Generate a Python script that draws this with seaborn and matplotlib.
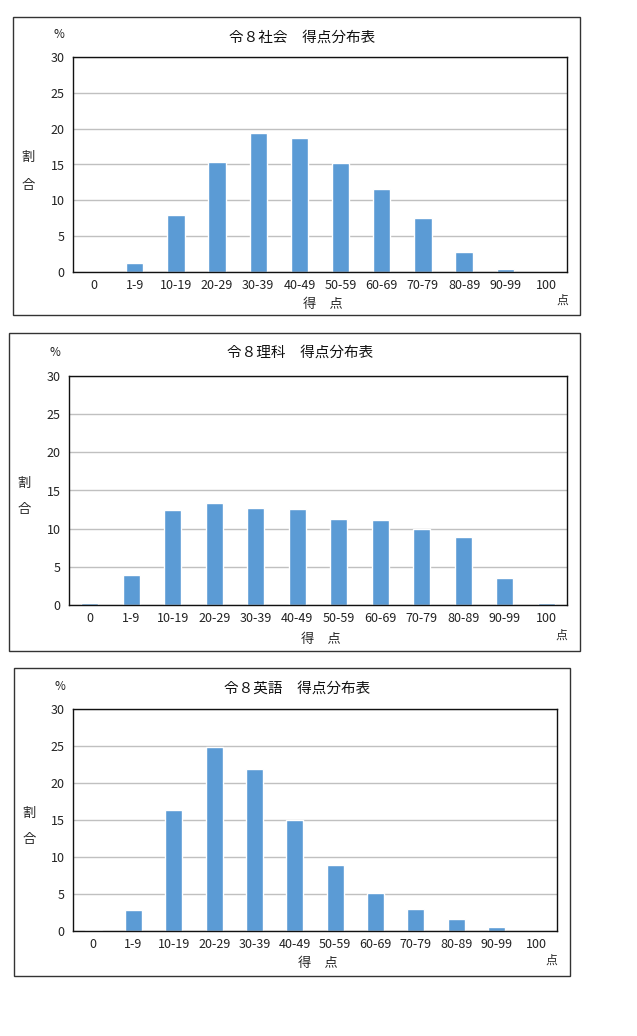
import matplotlib
matplotlib.use("Agg")
import matplotlib.pyplot as plt
import seaborn as sns
import pandas as pd
from matplotlib.patches import Rectangle

# 得点区分
score_bins = ["0", "1-9", "10-19", "20-29", "30-39", "40-49", "50-59",
              "60-69", "70-79", "80-89", "90-99", "100"]

# 各教科の割合 (%)
social_pct = [0.0, 1.3, 8.0, 15.4, 19.4, 18.7, 15.2, 11.6, 7.5, 2.8, 0.35, 0.0]
science_pct = [0.3, 3.9, 12.4, 13.4, 12.7, 12.6, 11.3, 11.1, 10.0, 8.9, 3.6, 0.3]
english_pct = [0.1, 2.8, 16.4, 24.9, 21.9, 15.0, 8.9, 5.2, 3.0, 1.6, 0.6, 0.0]

titles = ["令８社会　得点分布表", "令８理科　得点分布表", "令８英語　得点分布表"]

sns.set_theme(style="white")
plt.rcParams["font.family"] = ["Noto Sans CJK JP", "DejaVu Sans"]

W, H = 637, 1036
fig = plt.figure(figsize=(W / 100, H / 100), dpi=100)
fig.patch.set_facecolor("white")

BAR_COLOR = "#5b9bd5"
GRID_COLOR = "#c0c0c0"


def fx(x):
    return x / W


def fy(y):
    return 1 - y / H


# 各パネルのレイアウト (ピクセル)
panels = [
    dict(box=(13, 17, 580, 315), plot=(73, 57, 567, 272),
         title=(302, 38), pct=(59, 35), wari=(28, 157, 185),
         xlab=(323, 304), ten=(562, 300)),
    dict(box=(9, 333, 580, 651), plot=(69, 376, 567, 605),
         title=(300, 353), pct=(55, 352), wari=(24, 483, 510),
         xlab=(321, 640), ten=(561, 635)),
    dict(box=(14, 668, 570, 976), plot=(73, 709, 557, 931),
         title=(297, 689), pct=(60, 687), wari=(29, 813, 840),
         xlab=(318, 964), ten=(551, 960)),
]

for vals, title, p in zip([social_pct, science_pct, english_pct], titles, panels):
    bl, bt, br, bb = p["box"]
    fig.patches.append(Rectangle((fx(bl), fy(bb)), fx(br - bl), (bb - bt) / H,
                                 transform=fig.transFigure, fill=False,
                                 edgecolor="#333333", linewidth=1.0))

    l, t, r, b = p["plot"]
    ax = fig.add_axes([fx(l), fy(b), fx(r - l), (b - t) / H])
    df = pd.DataFrame({"得点": score_bins, "割合": vals})
    sns.barplot(data=df, x="得点", y="割合", ax=ax, color=BAR_COLOR,
                saturation=1, width=0.42)
    ax.set_ylim(0, 30)
    ax.set_yticks(range(0, 31, 5))
    ax.set_xlim(-0.5, len(score_bins) - 0.5)
    ax.yaxis.grid(True, color=GRID_COLOR, linewidth=1.0)
    ax.set_axisbelow(True)
    ax.set_xlabel("")
    ax.set_ylabel("")
    ax.tick_params(axis="both", length=0, labelsize=9, colors="#222222")
    ax.tick_params(axis="y", pad=6)
    ax.tick_params(axis="x", pad=5)
    for s in ax.spines.values():
        s.set_visible(True)
        s.set_color("#111111")
        s.set_linewidth(1.0)

    fig.text(fx(p["title"][0]), fy(p["title"][1]), title, ha="center",
             va="center", fontsize=10.5, color="#111111")
    fig.text(fx(p["pct"][0]), fy(p["pct"][1]), "%", ha="center", va="center",
             fontsize=8.5, color="#222222")
    wx, wy1, wy2 = p["wari"]
    fig.text(fx(wx), fy(wy1), "割", ha="center", va="center", fontsize=9.5)
    fig.text(fx(wx), fy(wy2), "合", ha="center", va="center", fontsize=9.5)
    fig.text(fx(p["xlab"][0]), fy(p["xlab"][1]), "得　点", ha="center",
             va="center", fontsize=9.5)
    fig.text(fx(p["ten"][0]), fy(p["ten"][1]), "点", ha="center",
             va="center", fontsize=8.5)

fig.savefig("out.png", dpi=100, facecolor="white")
